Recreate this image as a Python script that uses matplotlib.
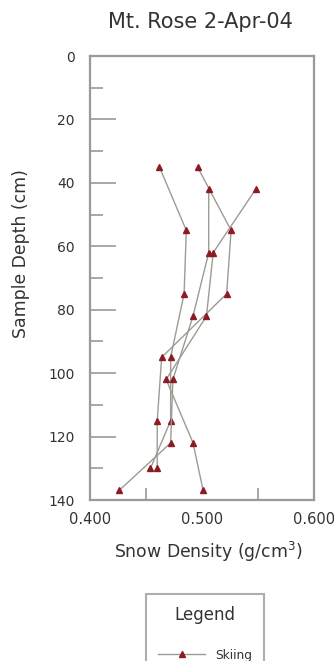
import numpy as np
import matplotlib
matplotlib.use('Agg')
import matplotlib.pyplot as plt
from matplotlib.ticker import MultipleLocator, FormatStrFormatter

# Snow pit profiles: sample depth (cm) and measured density (g/cm3)
depth_a = [35, 55, 75, 95, 115, 130]
depth_b = [42, 62, 82, 102, 122, 137]

density_1 = [0.462, 0.486, 0.484, 0.472, 0.472, 0.454]
density_2 = [0.496, 0.526, 0.522, 0.464, 0.460, 0.460]
density_3 = [0.506, 0.506, 0.492, 0.474, 0.472, 0.426]
density_4 = [0.548, 0.510, 0.504, 0.468, 0.492, 0.501]

profiles = [(density_1, depth_a), (density_2, depth_a),
            (density_3, depth_b), (density_4, depth_b)]

line_color = '#9c9c94'
marker_color = '#8b1c24'
axis_color = '#9a9a9a'
text_color = '#333333'

fig = plt.figure(figsize=(3.34, 6.61), dpi=100)
ax = fig.add_axes([90/334, 1 - 500/661, 224/334, 444/661])

for i, (dens, dep) in enumerate(profiles):
    ax.plot(dens, dep, color=line_color, lw=1.0, marker='^', ms=4.5,
            mfc=marker_color, mec=marker_color,
            label='Skiing' if i == 0 else None)

ax.set_xlim(0.400, 0.600)
ax.set_ylim(140, 0)

ax.xaxis.set_major_locator(MultipleLocator(0.1))
ax.xaxis.set_minor_locator(MultipleLocator(0.05))
ax.xaxis.set_major_formatter(FormatStrFormatter('%.3f'))
ax.yaxis.set_major_locator(MultipleLocator(20))
ax.yaxis.set_minor_locator(MultipleLocator(10))

ax.tick_params(axis='x', which='major', direction='in', length=0, pad=9,
               labelsize=10.5, labelcolor=text_color)
ax.tick_params(axis='x', which='minor', direction='in', length=9,
               width=1.2, color=axis_color)
ax.tick_params(axis='y', which='major', direction='in', length=19, pad=11,
               width=1.2, color=axis_color, labelsize=10, labelcolor=text_color)
ax.tick_params(axis='y', which='minor', direction='in', length=9,
               width=1.2, color=axis_color)

for sp in ax.spines.values():
    sp.set_color(axis_color)
    sp.set_linewidth(1.6)

fig.text(200/334, 1 - 28/661, 'Mt. Rose 2-Apr-04', ha='center', va='baseline',
         fontsize=15, color=text_color)
fig.text(208/334, 1 - 552/661, 'Snow Density (g/cm$^3$)', ha='center', va='center',
         fontsize=12.4, color=text_color)
fig.text(21/334, 1 - 254/661, 'Sample Depth (cm)', ha='center', va='center',
         rotation=90, fontsize=12.4, color=text_color)

leg = fig.legend(loc='upper center', bbox_to_anchor=(205/334, 1 - 594/661),
                 title='Legend', fontsize=8.8, title_fontsize=12,
                 frameon=True, fancybox=False, edgecolor=axis_color,
                 handlelength=3.9, handletextpad=0.8, borderpad=1.0,
                 labelspacing=2.0, borderaxespad=0)
leg.get_frame().set_linewidth(1.5)
leg.get_title().set_color(text_color)
for t in leg.get_texts():
    t.set_color(text_color)

fig.savefig('out.png', dpi=100)
